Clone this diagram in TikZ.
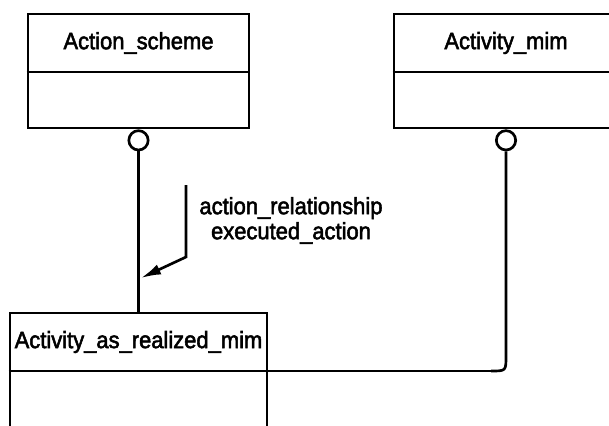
\documentclass[tikz,border=0pt]{standalone}
\usepackage{fontspec}
\setmainfont{Liberation Sans}[FakeStretch=0.93,FakeBold=2.2]
\usetikzlibrary{arrows.meta}
\begin{document}
\begin{tikzpicture}[x=0.75pt,y=-0.75pt,
  umlbox/.style={draw, line width=2pt, inner sep=0pt},
  titletext/.style={font=\fontsize{17.7}{19}\selectfont, inner sep=0pt},
  septhick/.style={line width=2pt},
  septhin/.style={line width=1pt},
  circ/.style={draw, circle, line width=2pt, minimum size=14.5pt, inner sep=0pt, fill=white},
  conn/.style={line width=2pt},
  thinconn/.style={line width=1pt},
  lbl/.style={font=\fontsize{17.7}{18.75}\selectfont, align=center, inner sep=0pt}]
\useasboundingbox (0,0) rectangle (609,425);
\clip (0,0) rectangle (609,425);
\fill[white] (0,0) rectangle (609,425);

% Action_scheme
\node[umlbox, minimum width=165.75pt, minimum height=85.5pt] (as) at (138.5,71) {};
\node[titletext] (ast) at (138.5,43) {Action\_scheme};
\draw[septhick] (as.west |- 0,72) -- (as.east |- 0,72);

% Activity_mim
\node[umlbox, minimum width=165.75pt, minimum height=85.5pt] (am) at (504.5,71) {};
\node[titletext] (amt) at (506,43) {Activity\_mim};
\draw[septhick] (am.west |- 0,72) -- (am.east |- 0,72);

% Activity_as_realized_mim
\node[umlbox, minimum width=192.75pt, minimum height=117.75pt] (ar) at (138.5,391.5) {};
\node[titletext] (art) at (138.5,342) {Activity\_as\_realized\_mim};
\coordinate (arsepw) at (ar.west |- 0,371);
\coordinate (arsepe) at (ar.east |- 0,371);
\draw[septhin] (arsepw) -- (arsepe);

% circles
\node[circ, anchor=north] (c1) at (as.south) {};
\node[circ, anchor=north] (c2) at (am.south -| 506,0) {};

% connectors
\draw[conn] (c1.south) -- (ar.north);
\coordinate (k1) at (506,356);
\coordinate (k2) at (491,371);
\draw[conn] (c2.south) -- (k1) .. controls (506,371) .. (k2);
\draw[thinconn] (k2) -- (arsepe);

% label arrow
\coordinate (a0) at (186,185);
\coordinate (a1) at (186,257);
\coordinate (a2) at (141,278);
\draw[conn, -{Latex[length=15pt,width=8pt]}] (a0) -- (a1) -- (a2);
\node[lbl] (lab) at (291,220.5) {action\_relationship\\executed\_action};
\end{tikzpicture}
\end{document}
